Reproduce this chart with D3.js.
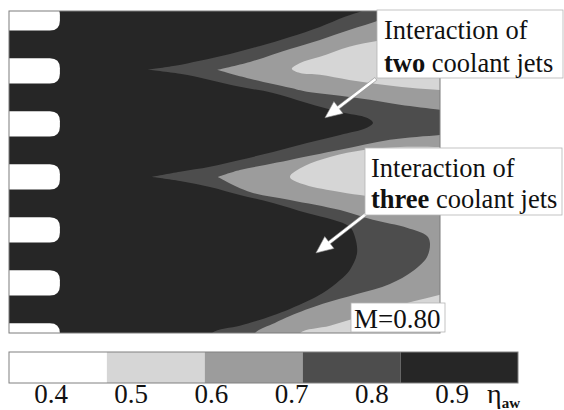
<!DOCTYPE html>
<html>
<head>
<meta charset="utf-8">
<script src="https://cdn.jsdelivr.net/npm/d3@7"></script>
<style>
  html, body { margin: 0; padding: 0; background: #fff; }
  #wrap { position: relative; width: 564px; height: 410px; overflow: hidden; }
  #wrap svg { position: absolute; left: 0; top: 0; display: block; }
  .lbl { position: absolute; white-space: nowrap; line-height: 0; color: #111;
         font-family: 'Liberation Serif', 'Times New Roman', serif; }
</style>
</head>
<body>
<div id="wrap"></div>
<script>
// ---- Domain of the surface (x/D downstream of the hole exit, y/D spanwise) ----
const xExtent = [-1.92, 14.34];
const yExtent = [-0.26, 11.89];

// Cooling holes: spanwise centre lines and size (in D)
const holeRows = [0, 2, 4, 6, 8, 10, 12];
const holeWidth = 0.95;
const holeExit = 0;

// Iso-effectiveness boundaries. Each region is a list of edge pieces;
// pieces with more than two points are smooth curves, two-point pieces are straight.
// Region where eta_aw < 0.8
const eta80 = [
  [[3.47,6.00],[4.53,5.81],[5.66,5.62],[6.79,5.36],[8.04,5.06],[9.32,4.72],[10.57,4.42],[11.58,4.15],[11.81,3.96],[11.58,3.77],[10.57,3.55],[9.32,3.21],[8.04,2.83],[6.79,2.60],[5.66,2.34],[4.53,2.11],[3.32,1.96]],
  [[3.32,1.96],[4.34,1.81],[5.28,1.62],[6.42,1.36],[7.55,1.06],[8.68,0.72],[9.81,0.34],[10.75,-0.04],[11.40,-0.26],[12.0,-0.47]],
  [[12.0,-0.47],[15,-0.47]], [[15,-0.47],[15,12.3]], [[15,12.3],[5.55,12.3]],
  [[5.55,12.3],[5.74,11.89],[6.79,11.62],[7.43,11.43],[8.68,10.98],[9.92,10.38],[10.57,9.89],[10.94,9.51],[11.21,8.87],[11.13,8.26],[10.94,7.89],[10.30,7.62],[9.32,7.36],[8.04,6.98],[6.79,6.68],[5.66,6.38],[4.53,6.15],[3.47,6.00]]
];
// Regions where eta_aw < 0.7
const eta70Upper = [
  [[13.3,-0.6],[13.02,-0.26],[12.08,0.08],[10.94,0.45],[9.81,0.83],[8.68,1.17],[7.17,1.66],[5.92,1.96]],
  [[5.92,1.96],[7.17,2.30],[8.68,2.64],[9.32,2.79],[10.57,2.94],[11.70,3.09],[12.83,3.28],[14.34,3.47],[15,3.55]],
  [[15,3.55],[15,-0.6]], [[15,-0.6],[13.3,-0.6]]
];
const eta70Lower = [
  [[5.96,6.00],[6.79,5.74],[7.74,5.55],[8.68,5.36],[10.57,4.98],[12.45,4.60],[14.34,4.42],[15,4.36]],
  [[15,4.36],[15,12.3]], [[15,12.3],[7.2,12.3]],
  [[7.2,12.3],[7.36,11.89],[8.11,11.51],[8.68,11.25],[9.92,10.79],[11.21,10.42],[12.45,10.04],[13.32,9.55],[13.85,9.02],[13.96,8.49],[13.85,8.23],[13.09,7.92],[11.81,7.62],[10.57,7.25],[8.68,6.87],[7.17,6.57],[5.96,6.00]]
];
// Regions where eta_aw < 0.6
const eta60Upper = [
  [[15,0.45],[14.34,0.53],[13.21,0.68],[11.96,0.87],[10.91,1.09],[9.81,1.47],[9.06,1.70],[8.75,1.92],[9.06,2.08],[9.81,2.15],[10.91,2.34],[11.96,2.49],[13.21,2.64],[14.34,2.72],[15,2.76]],
  [[15,2.76],[15,0.45]]
];
const eta60Middle = [
  [[15,4.87],[14.34,4.87],[12.83,4.87],[11.51,4.98],[10.19,5.25],[9.25,5.58],[8.68,6.00],[9.25,6.30],[10.57,6.57],[11.58,6.72],[12.83,6.87],[14.34,6.98],[15,7.02]],
  [[15,7.02],[15,4.87]]
];
const eta60Lower = [
  [[8.9,12.3],[9.06,11.89],[10.19,11.62],[11.32,11.28],[12.45,10.94],[13.58,10.64],[14.34,10.45],[15,10.3]],
  [[15,10.3],[15,12.3]], [[15,12.3],[8.9,12.3]]
];

// Colour key
const legendStops = [0.4, 0.5, 0.6, 0.7, 0.8, 0.92];
const legendFills = ["#ffffff", "#d6d6d6", "#9c9c9c", "#4d4d4d", "#262626"];
const tickValues = [0.4, 0.5, 0.6, 0.7, 0.8, 0.9];

// Callouts: arrow tail and tip in x/D, y/D
const callouts = [
  { line1: "Interaction of", line2: ["two", " coolant jets"], box: [377, 10, 186, 68], tx: 384, ty: [39, 72], tail: [11.92, 2.30], tip: [10.0, 3.77] },
  { line1: "Interaction of", line2: ["three", " coolant jets"], box: [365, 148, 197, 67], tx: 371, ty: [177, 208], tail: [11.55, 7.40], tip: [9.66, 8.87] }
];
const blowingRatio = "M=0.80";

// ---- Layout ----
const wrap = d3.select("#wrap");
const svg = wrap.append("svg").attr("width", 564).attr("height", 410);
const plot = { left: 9, right: 440, top: 11, bottom: 333 };
const x = d3.scaleLinear().domain(xExtent).range([plot.left, plot.right]);
const y = d3.scaleLinear().domain(yExtent).range([plot.top, plot.bottom]);

const colBlack = legendFills[4], colDark = legendFills[3], colMid = legendFills[2], colLight = legendFills[1];

svg.append("defs").append("clipPath").attr("id", "plotClip")
  .append("rect").attr("x", plot.left).attr("y", plot.top)
  .attr("width", plot.right - plot.left).attr("height", plot.bottom - plot.top);

const field = svg.append("g").attr("clip-path", "url(#plotClip)");

const smooth = d3.line().x(d => x(d[0])).y(d => y(d[1])).curve(d3.curveCatmullRom.alpha(0.5));
const straight = d3.line().x(d => x(d[0])).y(d => y(d[1]));

function regionPath(pieces) {
  return pieces.map((p, i) => {
    const d = (p.length > 2 ? smooth : straight)(p);
    return i === 0 ? d : "L" + d.slice(1);
  }).join("") + "Z";
}

// eta >= 0.8 everywhere else
field.append("rect")
  .attr("x", plot.left).attr("y", plot.top)
  .attr("width", plot.right - plot.left).attr("height", plot.bottom - plot.top)
  .attr("fill", colBlack);

const bands = [
  { fill: colDark, regions: [eta80] },
  { fill: colMid, regions: [eta70Upper, eta70Lower] },
  { fill: colLight, regions: [eta60Upper, eta60Middle, eta60Lower] }
];
bands.forEach(b => {
  field.selectAll(null).data(b.regions).join("path")
    .attr("d", regionPath)
    .attr("fill", b.fill);
});

// Cooling holes
const rr = 10;
field.selectAll("path.hole").data(holeRows).join("path")
  .attr("class", "hole")
  .attr("fill", "#fff")
  .attr("d", r => {
    const t = y(r - holeWidth / 2), b = y(r + holeWidth / 2);
    const l = plot.left - 2, rt = x(holeExit);
    return `M${l},${t}H${rt - rr}Q${rt},${t} ${rt},${t + rr}V${b - rr}Q${rt},${b} ${rt - rr},${b}H${l}Z`;
  });

// Plot frame
svg.append("rect")
  .attr("x", plot.left).attr("y", plot.top)
  .attr("width", plot.right - plot.left).attr("height", plot.bottom - plot.top)
  .attr("fill", "none").attr("stroke", "#7d7d7d").attr("stroke-width", 1);

// Arrows
function arrowPath(tail, tip) {
  const x0 = x(tail[0]), y0 = y(tail[1]), x1 = x(tip[0]), y1 = y(tip[1]);
  const dx = x1 - x0, dy = y1 - y0, len = Math.hypot(dx, dy);
  const ux = dx / len, uy = dy / len, nx = -uy, ny = ux;
  const hl = 17, hw = 7.5, sw = 1.6;
  const bx = x1 - ux * hl, by = y1 - uy * hl;
  const pts = [
    [x0 + nx * sw, y0 + ny * sw], [bx + nx * sw, by + ny * sw], [bx + nx * hw, by + ny * hw],
    [x1, y1],
    [bx - nx * hw, by - ny * hw], [bx - nx * sw, by - ny * sw], [x0 - nx * sw, y0 - ny * sw]
  ];
  return "M" + pts.map(p => p.join(",")).join("L") + "Z";
}

const notes = svg.append("g");
callouts.forEach(c => {
  notes.append("path").attr("d", arrowPath(c.tail, c.tip))
    .attr("fill", "#fff").attr("stroke", "#8a8a8a").attr("stroke-width", 0.6);
  notes.append("rect").attr("x", c.box[0]).attr("y", c.box[1])
    .attr("width", c.box[2]).attr("height", c.box[3])
    .attr("fill", "#fff").attr("stroke", "#b5b5b5").attr("stroke-width", 0.8);
});
notes.append("rect").attr("x", 351).attr("y", 303).attr("width", 94).attr("height", 29)
  .attr("fill", "#fff").attr("stroke", "#b5b5b5").attr("stroke-width", 0.8);

// ---- Colour key ----
const key = svg.append("g");
const kx = d3.scaleLinear().domain([legendStops[0], legendStops[legendStops.length - 1]]).range([9, 518]);
const keyTop = 352, keyH = 31;
key.selectAll("rect.seg").data(legendFills).join("rect")
  .attr("class", "seg")
  .attr("x", (d, i) => kx(legendStops[i]))
  .attr("y", keyTop)
  .attr("width", (d, i) => kx(legendStops[i + 1]) - kx(legendStops[i]))
  .attr("height", keyH)
  .attr("fill", d => d);
key.append("rect").attr("x", kx(legendStops[0])).attr("y", keyTop)
  .attr("width", kx(legendStops[legendStops.length - 1]) - kx(legendStops[0])).attr("height", keyH)
  .attr("fill", "none").attr("stroke", "#808080").attr("stroke-width", 1);

// ---- Text layer (serif labels placed on a baseline) ----
// With line-height 0 the baseline sits (ascent - descent)/2 below the box top.
const BASE = (0.891 - 0.216) / 2;
function label(xp, baseline, size, anchor) {
  const d = wrap.append("div").attr("class", "lbl")
    .style("left", xp + "px")
    .style("top", (baseline - BASE * size) + "px")
    .style("font-size", size + "px");
  if (anchor === "middle") d.style("transform", "translateX(-50%)");
  return d;
}

callouts.forEach(c => {
  label(c.tx, c.ty[0], 26.5).text(c.line1);
  const l2 = label(c.tx, c.ty[1], 26.5);
  l2.append("b").text(c.line2[0]);
  l2.append("span").text(c.line2[1]);
});
label(354, 328, 27).text(blowingRatio);

const lx = d3.scaleLinear().domain([tickValues[0], tickValues[tickValues.length - 1]]).range([51, 452]);
tickValues.forEach(v => label(lx(v), 403, 27, "middle").text(d3.format(".1f")(v)));

const sym = label(487, 403, 28);
sym.append("span").text("η");
sym.append("b").style("font-size", "15px").style("position", "relative").style("top", "5px").text("aw");
</script>
</body>
</html>
